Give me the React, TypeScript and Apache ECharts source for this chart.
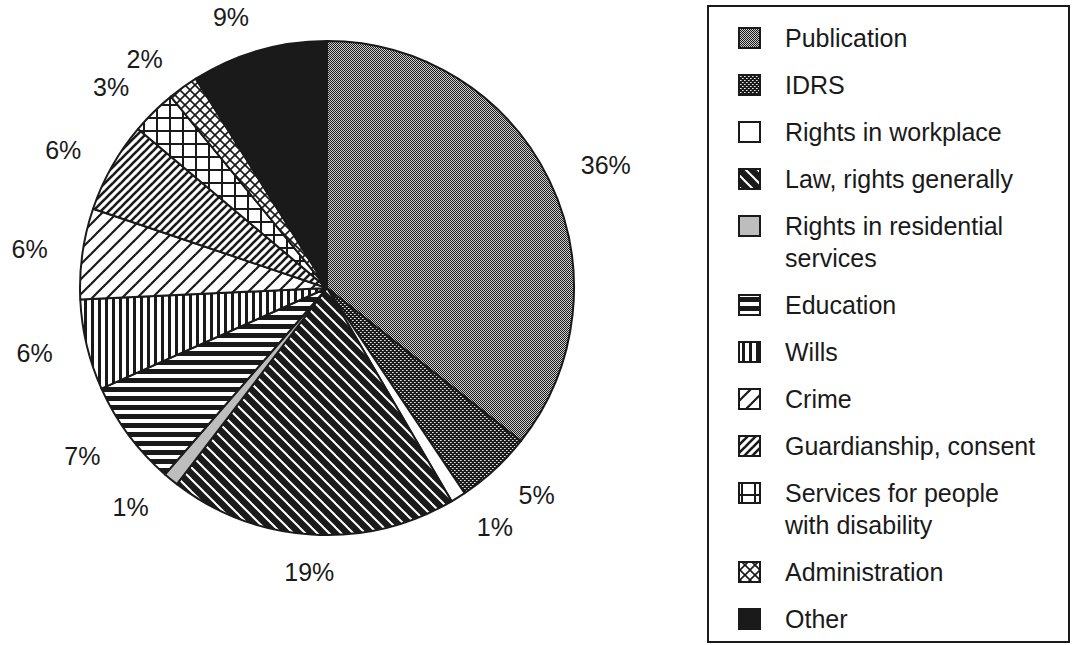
import React, { useEffect, useRef } from "react";
import * as echarts from "echarts";

const categories = [
  "Publication",
  "IDRS",
  "Rights in workplace",
  "Law, rights generally",
  "Rights in residential services",
  "Education",
  "Wills",
  "Crime",
  "Guardianship, consent",
  "Services for people with disability",
  "Administration",
  "Other",
];
const legendLabels = [
  "Publication",
  "IDRS",
  "Rights in workplace",
  "Law, rights generally",
  "Rights in residential\nservices",
  "Education",
  "Wills",
  "Crime",
  "Guardianship, consent",
  "Services for people\nwith disability",
  "Administration",
  "Other",
];
const percentages = [36, 5, 1, 19, 1, 7, 6, 6, 6, 3, 2, 9];
const patternKinds = [
  "fineChecker",
  "darkDots",
  "white",
  "blackDiagBack",
  "lightGray",
  "hStripes",
  "vStripes",
  "diagSparse",
  "diagDense",
  "grid",
  "crossDiag",
  "black",
];

const INK = "#1a1a1a";
const FONT = "'Liberation Sans', Arial, Helvetica, sans-serif";
const FS = 25;

function tile(w: number, h: number, draw: (ctx: CanvasRenderingContext2D) => void) {
  const c = document.createElement("canvas");
  c.width = w;
  c.height = h;
  const ctx = c.getContext("2d") as CanvasRenderingContext2D;
  draw(ctx);
  return { image: c.toDataURL(), repeat: "repeat", imageWidth: w, imageHeight: h };
}

function diag(p: number, lw: number, fg: string, bg: string, forward: boolean) {
  return tile(p, p, (ctx) => {
    ctx.fillStyle = bg;
    ctx.fillRect(0, 0, p, p);
    ctx.strokeStyle = fg;
    ctx.lineWidth = lw;
    for (let k = -1; k <= 1; k++) {
      ctx.beginPath();
      if (forward) {
        ctx.moveTo(k * p - 1, p + 1);
        ctx.lineTo(k * p + p + 1, -1);
      } else {
        ctx.moveTo(k * p - 1, -1);
        ctx.lineTo(k * p + p + 1, p + 1);
      }
      ctx.stroke();
    }
  });
}

function makeFill(kind: string): any {
  switch (kind) {
    case "fineChecker":
      return tile(2, 2, (ctx) => {
        ctx.fillStyle = "#d0d0d0";
        ctx.fillRect(0, 0, 2, 2);
        ctx.fillStyle = INK;
        ctx.fillRect(0, 0, 1, 1);
        ctx.fillRect(1, 1, 1, 1);
      });
    case "darkDots":
      return tile(4, 4, (ctx) => {
        ctx.fillStyle = INK;
        ctx.fillRect(0, 0, 4, 4);
        ctx.fillStyle = "#e8e8e8";
        ctx.fillRect(0, 0, 1, 1);
        ctx.fillRect(2, 2, 1, 1);
        ctx.fillStyle = "#9a9a9a";
        ctx.fillRect(1, 0, 1, 1);
        ctx.fillRect(3, 2, 1, 1);
      });
    case "white":
      return "#ffffff";
    case "black":
      return INK;
    case "lightGray":
      return "#bdbdbd";
    case "blackDiagBack":
      return diag(12, 2, "#ffffff", INK, false);
    case "hStripes":
      return tile(9, 9, (ctx) => {
        ctx.fillStyle = "#ffffff";
        ctx.fillRect(0, 0, 9, 9);
        ctx.fillStyle = INK;
        ctx.fillRect(0, 0, 9, 5);
      });
    case "vStripes":
      return tile(7, 7, (ctx) => {
        ctx.fillStyle = "#ffffff";
        ctx.fillRect(0, 0, 7, 7);
        ctx.fillStyle = INK;
        ctx.fillRect(0, 0, 3, 7);
      });
    case "diagSparse":
      return diag(15, 2.2, INK, "#ffffff", true);
    case "diagDense":
      return diag(8, 2.6, INK, "#ffffff", true);
    case "grid":
      return tile(13, 13, (ctx) => {
        ctx.fillStyle = "#ffffff";
        ctx.fillRect(0, 0, 13, 13);
        ctx.fillStyle = INK;
        ctx.fillRect(0, 0, 13, 2);
        ctx.fillRect(0, 0, 2, 13);
      });
    case "crossDiag":
      return tile(10, 10, (ctx) => {
        ctx.fillStyle = "#ffffff";
        ctx.fillRect(0, 0, 10, 10);
        ctx.strokeStyle = INK;
        ctx.lineWidth = 1.6;
        for (let k = -1; k <= 1; k++) {
          ctx.beginPath();
          ctx.moveTo(k * 10 - 1, -1);
          ctx.lineTo(k * 10 + 11, 11);
          ctx.stroke();
          ctx.beginPath();
          ctx.moveTo(k * 10 - 1, 11);
          ctx.lineTo(k * 10 + 11, -1);
          ctx.stroke();
        }
      });
  }
  return "#ffffff";
}

export default function App() {
  const ref = useRef<HTMLDivElement>(null);

  useEffect(() => {
    document.body.style.margin = "0";
    if (!ref.current) return;
    const chart = echarts.init(ref.current, null, { renderer: "svg" });
    const fills = patternKinds.map(makeFill);

    // slices whose middle points almost straight down/up get a centred label
    const total = percentages.reduce((a, b) => a + b, 0);
    let acc = 0;
    const nearVertical = percentages.map((v) => {
      const mid = ((acc + v / 2) / total) * 360;
      acc += v;
      const s = Math.sin((mid * Math.PI) / 180);
      return Math.abs(s) < 0.12;
    });

    const labelStyle = {
      formatter: "{c}%",
      fontSize: FS,
      fontFamily: FONT,
      color: INK,
    };

    const data = categories.map((name, i) => ({
      name,
      value: percentages[i],
      itemStyle: { color: fills[i] },
      label: { show: !nearVertical[i] },
    }));

    const legendEls: any[] = [];
    legendEls.push({
      type: "rect",
      shape: { x: 708, y: 6, width: 361, height: 636 },
      style: { fill: "#ffffff", stroke: INK, lineWidth: 2 },
      z: 1,
    });
    let y = 38;
    legendLabels.forEach((label, i) => {
      const lines = label.split("\n").length;
      legendEls.push({
        type: "rect",
        shape: { x: 739, y: y - 10, width: 21, height: 20 },
        style: { fill: fills[i], stroke: INK, lineWidth: 2 },
        z: 2,
      });
      legendEls.push({
        type: "text",
        x: 785,
        y: y - 16,
        style: {
          text: label,
          fontSize: FS,
          fontFamily: FONT,
          fill: INK,
          lineHeight: 32,
          verticalAlign: "top",
          align: "left",
        },
        z: 2,
      });
      y += 47 + (lines - 1) * 32;
    });

    chart.setOption({
      animation: false,
      backgroundColor: "#ffffff",
      graphic: legendEls,
      series: [
        {
          type: "pie",
          center: [327, 288],
          radius: [0, 247],
          startAngle: 90,
          clockwise: true,
          silent: true,
          avoidLabelOverlap: false,
          label: {
            show: true,
            position: "outside",
            distanceToLabelLine: 0,
            ...labelStyle,
          },
          labelLine: { show: false, length: 35, length2: 0 },
          itemStyle: { borderColor: INK, borderWidth: 2 },
          emphasis: { disabled: true },
          data,
        },
        {
          type: "pie",
          center: [327, 288],
          radius: [262, 302],
          startAngle: 90,
          clockwise: true,
          silent: true,
          itemStyle: { color: "rgba(0,0,0,0)", borderWidth: 0 },
          label: {
            show: true,
            position: "inside",
            ...labelStyle,
          },
          labelLine: { show: false },
          emphasis: { disabled: true },
          data: categories.map((name, i) => ({
            name,
            value: percentages[i],
            label: { show: nearVertical[i] },
          })),
        },
      ],
    });
    return () => chart.dispose();
  }, []);

  return <div ref={ref} style={{ width: 1072, height: 645 }} />;
}
